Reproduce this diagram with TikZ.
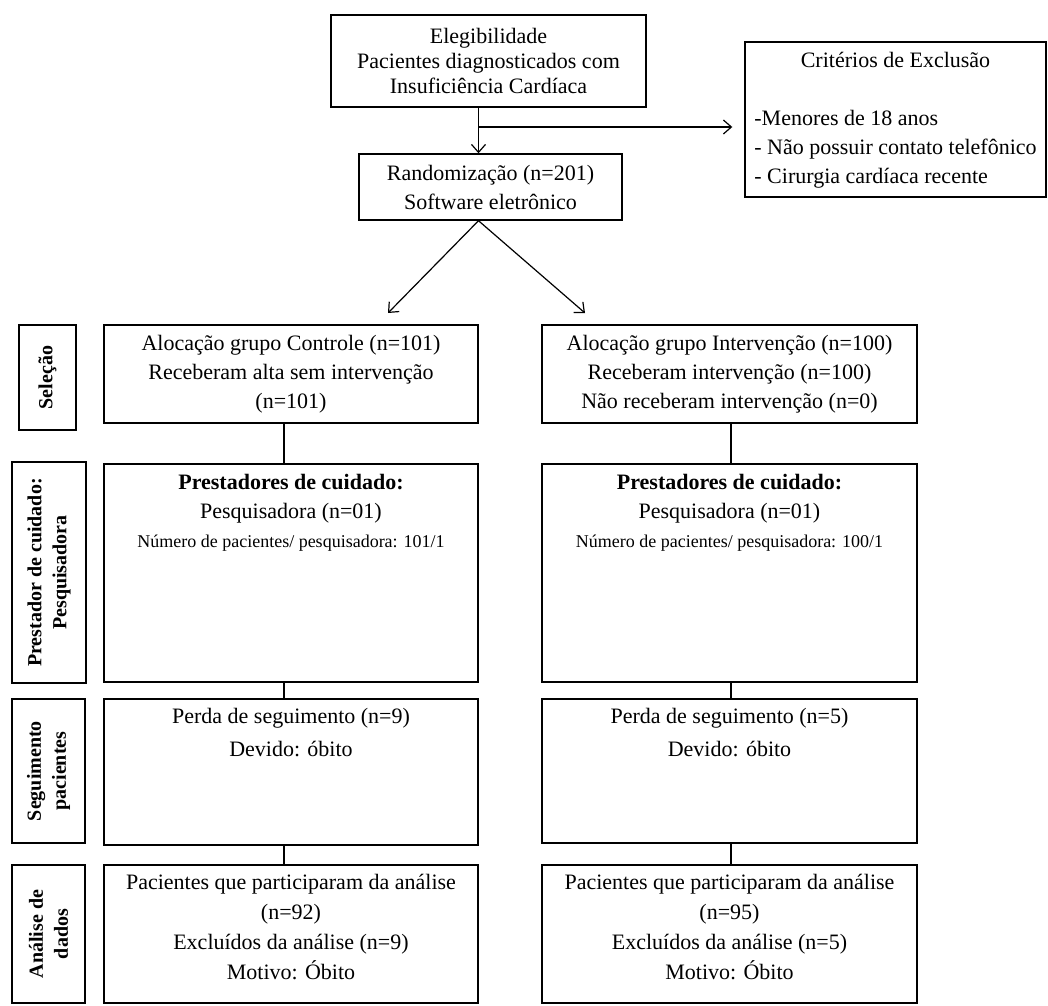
\documentclass[tikz,border=0pt]{standalone}
\usepackage{fontspec}
\setmainfont{Liberation Serif}
\usepackage{tikz}
\usetikzlibrary{arrows.meta}
\usetikzlibrary{positioning}
\newcommand{\setfs}[2]{\fontsize{#1}{#2}\selectfont}

\tikzset{
	box/.style = {draw, line width = 1.4pt, inner sep = 0pt, align = center},
	tag/.style = {box, rotate = 90, font = \bfseries\setfs{20}{25}},
	txt/.style = {inner sep = 0pt, align = center},
	link/.style = {line width = 1.2pt}
}

\begin{document}
\begin{tikzpicture}[x = 1pt, y = 1pt, >={Straight Barb[length=8pt, width=14pt]}]
	\useasboundingbox (0, 0) rectangle (1048, -1005);

	\node[box, minimum width = 315pt, minimum height = 92pt, font = \setfs{22}{25}] (eleg) at (488.5, -61) {Elegibilidade\\Pacientes diagnosticados com\\Insuficiência Cardíaca};
	\node[box, minimum width = 263pt, minimum height = 66pt, font = \setfs{22}{29}] (rand) at (490.5, -187) {Randomização (n=201)\\Software eletrônico};
	\node[box, minimum width = 301pt, minimum height = 155pt, font = \setfs{22}{29}] (excl) at (895.5, -119.5) {\begin{tabular}{@{}l@{}}\multicolumn{1}{@{}c@{}}{Critérios de Exclusão}\\ \\ -Menores de 18 anos\\- Não possuir contato telefônico\\- Cirurgia cardíaca recente\end{tabular}};

	\coordinate[](spine) at ([xshift = -10pt]eleg.south);
	\coordinate[](branch) at (478.5, -127);
	\coordinate[](fork) at (rand.south -| spine);
	\coordinate[](armC) at (388, -313);
	\coordinate[](armI) at (585, -313);
	\draw[link, ->] (spine) -- (spine |- rand.north);
	\draw[link, ->] (branch) -- ([xshift = -12pt]branch -| excl.west);
	\draw[link, ->] (fork) -- (armC);
	\draw[link, ->] (fork) -- (armI);

	% grupos
	\node[box, minimum width = 374pt, minimum height = 98pt, font = \setfs{22}{29}] (alocC) at (291, -374) {Alocação grupo Controle (n=101)\\Receberam alta sem intervenção\\(n=101)};
	\node[box, minimum width = 375pt, minimum height = 98pt, font = \setfs{22}{29}] (alocI) at (729.5, -374) {Alocação grupo Intervenção (n=100)\\Receberam intervenção (n=100)\\Não receberam intervenção (n=0)};

	\node[box, minimum width = 374pt, minimum height = 218pt] (prestC) at (291, -573) {};
	\node[box, minimum width = 375pt, minimum height = 218pt] (prestI) at (729.5, -573) {};
	\node[txt, below = 11pt of prestC.north, font = \setfs{22}{29}] (prestCtxt) {\textbf{Prestadores de cuidado:}\\Pesquisadora (n=01)\\{\setfs{18}{22}Número de pacientes/ pesquisadora: 101/1}};
	\node[txt, below = 11pt of prestI.north, font = \setfs{22}{29}] (prestItxt) {\textbf{Prestadores de cuidado:}\\Pesquisadora (n=01)\\{\setfs{18}{22}Número de pacientes/ pesquisadora: 100/1}};

	\node[box, minimum width = 374pt, minimum height = 146pt] (perdaC) at (291, -772) {};
	\node[box, minimum width = 375pt, minimum height = 144pt] (perdaI) at (729.5, -771) {};
	\node[txt, below = 10pt of perdaC.north, font = \setfs{22}{33}] (perdaCtxt) {Perda de seguimento (n=9)\\Devido: óbito};
	\node[txt, below = 10pt of perdaI.north, font = \setfs{22}{33}] (perdaItxt) {Perda de seguimento (n=5)\\Devido: óbito};

	\node[box, minimum width = 374pt, minimum height = 138pt] (analC) at (291, -934) {};
	\node[box, minimum width = 375pt, minimum height = 138pt] (analI) at (729.5, -934) {};
	\node[txt, below = 10pt of analC.north, font = \setfs{22}{30}] (analCtxt) {Pacientes que participaram da análise\\(n=92)\\Excluídos da análise (n=9)\\Motivo: Óbito};
	\node[txt, below = 10pt of analI.north, font = \setfs{22}{30}] (analItxt) {Pacientes que participaram da análise\\(n=95)\\Excluídos da análise (n=5)\\Motivo: Óbito};

	\foreach \g/\dx in {C/-7, I/1.5}{
		\draw[link] ([xshift = \dx pt]aloc\g.south) -- ([xshift = \dx pt]prest\g.north);
		\draw[link] ([xshift = \dx pt]prest\g.south) -- ([xshift = \dx pt]perda\g.north);
		\draw[link] ([xshift = \dx pt]perda\g.south) -- ([xshift = \dx pt]anal\g.north);
	}

	% etapas
	\node[tag, minimum width = 105pt, minimum height = 57pt] (labSel) at (47.5, -377.5) {Seleção};
	\node[tag, minimum width = 221pt, minimum height = 74pt] (labPrest) at (49, -572.5) {Prestador de cuidado:\\Pesquisadora};
	\node[tag, minimum width = 144pt, minimum height = 73pt] (labSeg) at (48.5, -771) {Seguimento\\pacientes};
	\node[tag, minimum width = 138pt, minimum height = 73pt] (labAnal) at (48.5, -934) {Análise de\\dados};
\end{tikzpicture}
\end{document}
